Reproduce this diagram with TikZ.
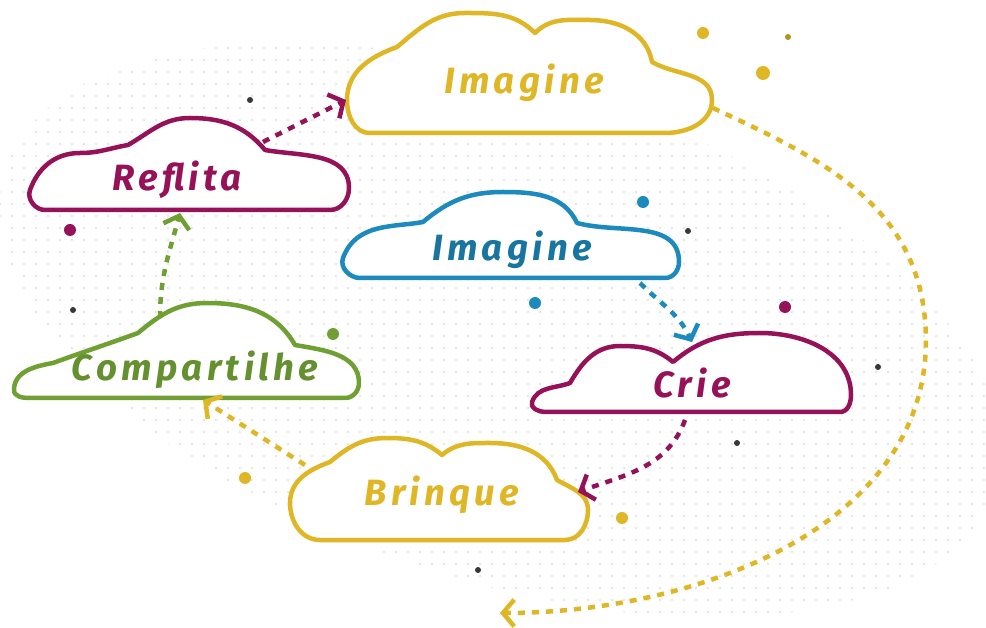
\documentclass[tikz,border=0pt]{standalone}
\usepackage{fontspec}
\usepackage{tikz}
\usetikzlibrary{arrows.meta}
\newfontfamily\cloudfont[LetterSpace=12]{Fira Sans}
\definecolor{cloudyellow}{RGB}{223,183,38}
\definecolor{cloudmagenta}{RGB}{150,18,88}
\definecolor{cloudblue}{RGB}{28,138,188}
\definecolor{cloudgreen}{RGB}{112,160,52}
\definecolor{darkdot}{RGB}{55,55,55}
\tikzset{
  cloud/.style={draw=#1, line width=3.2pt, fill=white, line join=round},
  link/.style={draw=#1, line width=3.2pt, dash pattern=on 5pt off 5pt,
    -{Straight Barb[length=8pt,width=19pt]}},
  word/.style={text=#1, font=\cloudfont\bfseries\itshape\fontsize{26}{26}\selectfont, inner sep=0pt},
  dot/.style={fill=#1, draw=none},
}
\begin{document}
\begin{tikzpicture}[x=0.025cm, y=0.025cm]
  %%%%% START %%%%%
  \useasboundingbox (0,0) rectangle (986,-628);
  \fill[white] (0,0) rectangle (986,-628);

  % faint dotted band
  \begin{scope}
    \clip[rotate around={-18:(500,-330)}] (500,-330) ellipse (520 and 250);
    \foreach \gx in {0,12,...,986}
      \foreach \gy in {0,12,...,628}
        \fill[black!13] (\gx,-\gy) circle (1.2);
  \end{scope}

  % clouds
  \draw[cloud=cloudyellow] (370,-133) -- (665,-133) to[out=0,in=-90] (712,-100)
    to[out=90,in=-30] (652,-62) to[out=100,in=0] (590,-20) to[out=180,in=45] (535,-33)
    to[out=135,in=0] (465,-13) to[out=180,in=40] (397,-47) to[out=200,in=90] (347,-100)
    to[out=-90,in=180] (370,-133) -- cycle;
  \node[word=cloudyellow] (imagineTop) at (524,-83) {Imagine};

  \draw[cloud=cloudmagenta] (45,-210) -- (330,-210) to[out=0,in=-90] (349,-188)
    to[out=90,in=-10] (265,-150) to[out=130,in=0] (190,-118) to[out=180,in=30] (128,-145)
    to[out=190,in=0] (80,-153) to[out=180,in=70] (30,-190) to[out=-110,in=180] (45,-210) -- cycle;
  \node[word=cloudmagenta] (reflita) at (177,-180) {Reflita};

  \draw[cloud=cloudblue] (360,-278) -- (665,-278) to[out=0,in=-90] (679,-262)
    to[out=90,in=-15] (577,-223) to[out=115,in=0] (503,-192) to[out=180,in=40] (423,-222)
    to[out=190,in=10] (385,-227) to[out=190,in=70] (343,-258) to[out=-110,in=180] (360,-278) -- cycle;
  \node[word=cloudblue!85!black] (imagineMid) at (512,-250) {Imagine};

  \draw[cloud=cloudgreen] (30,-398) -- (345,-398) to[out=0,in=-90] (359,-383)
    to[out=90,in=-10] (295,-345) to[out=120,in=0] (207,-303) to[out=180,in=40] (138,-333)
    to[out=200,in=20] (53,-363) to[out=190,in=90] (14,-390) to[out=-90,in=180] (30,-398) -- cycle;
  \node[word=cloudgreen!90!black] (compartilhe) at (195,-370) {Compartilhe};

  \draw[cloud=cloudmagenta] (545,-412) -- (840,-412) to[out=0,in=-90] (851,-395)
    to[out=90,in=0] (760,-333) to[out=180,in=40] (673,-362) to[out=140,in=0] (620,-346)
    to[out=180,in=60] (570,-383) to[out=200,in=70] (532,-402) to[out=-110,in=180] (545,-412) -- cycle;
  \node[word=cloudmagenta] (crie) at (692,-383) {Crie};

  \draw[cloud=cloudyellow] (320,-540) -- (565,-540) to[out=0,in=-90] (588,-510)
    to[out=90,in=-30] (557,-480) to[out=110,in=0] (490,-443) to[out=180,in=40] (442,-455)
    to[out=140,in=0] (387,-438) to[out=180,in=40] (330,-462) to[out=200,in=90] (290,-503)
    to[out=-90,in=180] (320,-540) -- cycle;
  \node[word=cloudyellow] (brinque) at (442,-495) {Brinque};

  % connector ends on the outlines
  \coordinate (reflitaOut) at (263,-142);
  \coordinate (imagineTopIn) at (346,-100);
  \coordinate (imagineTopOut) at (713,-108);
  \coordinate (loopEnd) at (500,-613);
  \coordinate (imagineMidOut) at (640,-283);
  \coordinate (crieIn) at (692,-342);
  \coordinate (crieOut) at (685,-420);
  \coordinate (brinqueIn) at (578,-492);
  \coordinate (brinqueOut) at (305,-465);
  \coordinate (compartilheIn) at (203,-400);
  \coordinate (compartilheOut) at (160,-318);
  \coordinate (reflitaIn) at (180,-213);

  % connectors
  \draw[link=cloudmagenta] (reflitaOut) -- (imagineTopIn);
  \draw[link=cloudyellow] (imagineTopOut) to[out=-25,in=95] (925,-320) to[out=-85,in=0] (loopEnd);
  \draw[link=cloudblue] (imagineMidOut) to[out=-45,in=115] (crieIn);
  \draw[link=cloudmagenta] (crieOut) to[out=-110,in=20] (brinqueIn);
  \draw[link=cloudyellow] (brinqueOut) -- (compartilheIn);
  \draw[link=cloudgreen] (compartilheOut) to[out=90,in=-105] (reflitaIn);

  % scattered dots
  \fill[dot=cloudmagenta] (70,-230) circle (6);
  \fill[dot=cloudmagenta] (785,-307) circle (6);
  \fill[dot=cloudgreen] (333,-334) circle (6);
  \fill[dot=cloudyellow] (245,-478) circle (6);
  \fill[dot=cloudyellow] (622,-518) circle (6);
  \fill[dot=cloudyellow] (703,-33) circle (6);
  \fill[dot=cloudyellow] (763,-73) circle (7);
  \fill[dot=cloudyellow!80!black] (788,-37) circle (3);
  \fill[dot=cloudblue] (643,-202) circle (6);
  \fill[dot=cloudblue] (535,-303) circle (6);
  \foreach \px/\py in {250/100, 73/310, 688/231, 878/367, 737/443, 478/570}
    \fill[dot=darkdot] (\px,-\py) circle (3);
  %%%%% END %%%%%
\end{tikzpicture}
\end{document}
